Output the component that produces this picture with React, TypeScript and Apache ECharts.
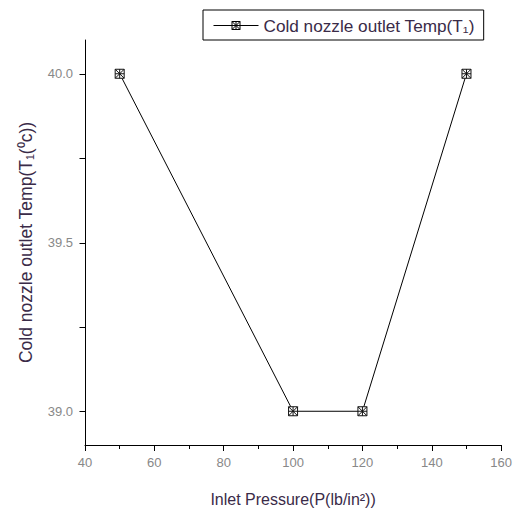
import React, { useEffect, useRef } from "react";
import * as echarts from "echarts";

const pressures = [50, 100, 120, 150];
const temps = [40.0, 39.0, 39.0, 40.0];
const yTickValues = [39.0, 39.25, 39.5, 39.75, 40.0];
const yLabelValues = [39.0, 39.5, 40.0];
const xMin = 40;
const seriesName = "Cold nozzle outlet Temp(T₁)";

const markerPath = "path://M0,0L10,0L10,10L0,10Z M0,0L10,10 M10,0L0,10 M5,0L5,10 M0,5L10,5";

export default function App() {
  const ref = useRef<HTMLDivElement>(null);
  useEffect(() => {
    if (!ref.current) return;
    const chart = echarts.init(ref.current, null, { renderer: "svg" });
    const titleColor = "#3a2b48";
    const font = "Liberation Sans, Arial";
    chart.setOption({
      animation: false,
      backgroundColor: "#fff",
      grid: { left: 85, right: 12, top: 40, bottom: 67, containLabel: false },
      legend: {
        left: 203,
        top: 10,
        padding: [7, 9, 6, 10],
        borderColor: "#000",
        borderWidth: 1,
        itemWidth: 45,
        itemHeight: 10,
        itemGap: 6,
        itemStyle: { color: "#fff", borderColor: "#000", borderWidth: 1 },
        lineStyle: { color: "#000", width: 1 },
        textStyle: { fontFamily: font, fontSize: 17.2, color: titleColor },
        data: [{ name: seriesName }],
      },
      xAxis: {
        type: "value",
        min: xMin,
        max: 160,
        interval: 20,
        name: "Inlet Pressure(P(lb/in²))",
        nameLocation: "middle",
        nameGap: 46,
        nameTextStyle: { fontFamily: font, fontSize: 16, color: titleColor },
        axisLine: { onZero: false, lineStyle: { color: "#000", width: 1 } },
        axisTick: { inside: false, length: 6, lineStyle: { color: "#000", width: 1 } },
        minorTick: { show: true, splitNumber: 2, length: 4, lineStyle: { color: "#000", width: 1 } },
        splitLine: { show: false },
        axisLabel: { fontFamily: font, fontSize: 13, color: "#888", margin: 11 },
      },
      yAxis: {
        type: "value",
        min: 38.9,
        max: 40.1,
        name: "Cold nozzle outlet Temp(T₁(⁰c))",
        nameLocation: "middle",
        nameGap: 50,
        nameTextStyle: { fontFamily: font, fontSize: 17.5, color: titleColor },
        axisLine: { show: true, onZero: false, lineStyle: { color: "#000", width: 1 } },
        axisTick: { show: false },
        splitLine: { show: false },
        axisLabel: {
          customValues: yLabelValues,
          formatter: (v: number) => v.toFixed(1),
          fontFamily: font,
          fontSize: 13,
          color: "#888",
          margin: 12,
        },
      },
      series: [
        {
          name: seriesName,
          type: "line",
          data: pressures.map((p, i) => [p, temps[i]]),
          symbol: markerPath,
          symbolSize: 9,
          showAllSymbol: true,
          lineStyle: { color: "#000", width: 1 },
          itemStyle: { color: "#fff", borderColor: "#111", borderWidth: 1 },
          z: 3,
        },
        {
          name: "yTicks",
          type: "custom",
          clip: false,
          silent: true,
          data: yTickValues.map((v) => [xMin, v]),
          renderItem: (params: any, api: any) => {
            const p = api.coord([api.value(0), api.value(1)]);
            const x = Math.round(p[0]) + 0.5;
            const y = Math.round(p[1]) + 0.5;
            return {
              type: "line",
              shape: { x1: x - 6, y1: y, x2: x, y2: y },
              style: { stroke: "#000", lineWidth: 1 },
            };
          },
        },
      ],
    });
    return () => chart.dispose();
  }, []);
  return <div ref={ref} style={{ width: 515, height: 512, position: "absolute", left: 0, top: 0 }} />;
}
